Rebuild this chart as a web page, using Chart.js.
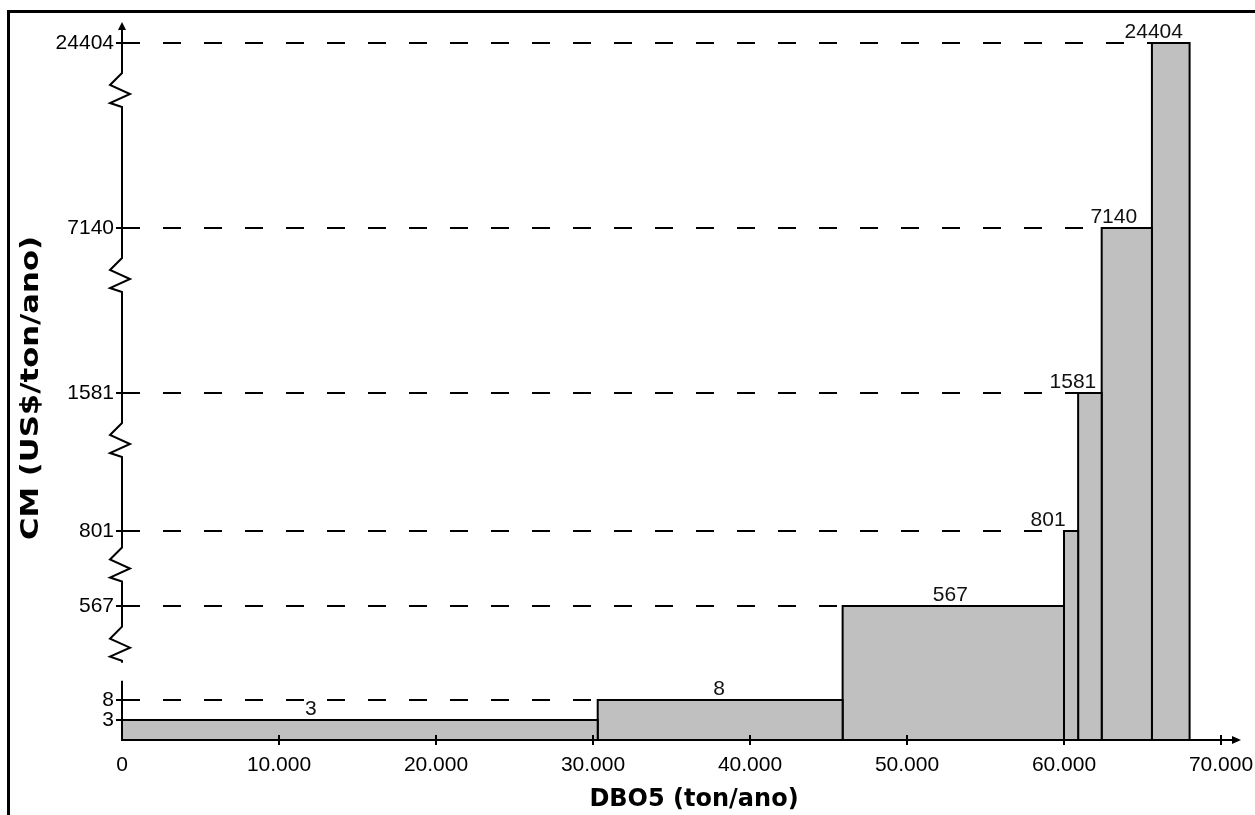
<!DOCTYPE html>
<html>
<head>
<meta charset="utf-8">
<script src="https://cdn.jsdelivr.net/npm/chart.js@4.4.1/dist/chart.umd.min.js"></script>
<style>
  html, body { margin: 0; padding: 0; background: #fff; }
  #wrap { width: 1255px; height: 815px; }
</style>
</head>
<body>
<div id="wrap"><canvas id="grafico" width="1255" height="815"></canvas></div>
<script>
// Dados (curva de custo marginal por faixa de DBO5)
const inicioFaixa = [0, 30300, 45900, 60000, 60900, 62400, 65600];
const fimFaixa = [30300, 45900, 60000, 60900, 62400, 65600, 68000];
const custoMarginal = [3, 8, 567, 801, 1581, 7140, 24404];
const ticksY = [3, 8, 567, 801, 1581, 7140, 24404];
const ticksX = [0, 10000, 20000, 30000, 40000, 50000, 60000, 70000];
const tituloX = 'DBO5 (ton/ano)';
const tituloY = 'CM (US$/ton/ano)';

// Eixo Y quebrado: altura (px acima do eixo X) de cada valor de ticksY
const posicaoQuebra = [20, 40, 134, 209, 347, 512, 697];
const alturaEixoY = 720;

const fonteTicks = { family: 'Liberation Sans, Arial, sans-serif', size: 21 };

// Escala linear com trechos (eixo quebrado)
class EixoQuebrado extends Chart.LinearScale {
    paraPosicao(v) {
        const vals = [0].concat(ticksY);
        const pos = [0].concat(posicaoQuebra);
        if (v <= 0) return 0;
        for (let i = 1; i < vals.length; i++) {
            if (v <= vals[i]) {
                return pos[i - 1] + (v - vals[i - 1]) / (vals[i] - vals[i - 1]) * (pos[i] - pos[i - 1]);
            }
        }
        return pos[pos.length - 1];
    }
    getPixelForValue(v) {
        if (v === null || v === undefined) return NaN;
        return super.getPixelForValue(this.paraPosicao(v));
    }
}
EixoQuebrado.id = 'quebrado';
EixoQuebrado.defaults = Chart.LinearScale.defaults;
Chart.register(EixoQuebrado);

function formatarMilhar(v) {
    return String(v).replace(/\B(?=(\d{3})+(?!\d))/g, '.');
}

const datasets = [];
// barras (faixas)
custoMarginal.forEach(function(v, i) {
    datasets.push({
        data: [
            { x: inicioFaixa[i], y: 0 },
            { x: inicioFaixa[i], y: v },
            { x: fimFaixa[i], y: v },
            { x: fimFaixa[i], y: 0 }
        ],
        fill: 'origin',
        backgroundColor: '#c0c0c0',
        borderColor: '#000',
        borderWidth: 2,
        pointRadius: 0,
        tension: 0,
        order: 1
    });
});
// linhas tracejadas de referência
custoMarginal.forEach(function(v, i) {
    datasets.push({
        data: [{ x: 0, y: v }, { x: inicioFaixa[i], y: v }],
        fill: false,
        borderColor: '#000',
        borderWidth: 2,
        borderDash: [18, 23],
        pointRadius: 0,
        order: 2
    });
});

// Eixos com quebras, setas, rótulos das barras e títulos
const deslocRotulo = [-49, -1, -3, -23, -17, -13, -17];
const decoracao = {
    id: 'decoracao',
    afterDraw(chart) {
        const ctx = chart.ctx;
        const xS = chart.scales.x, yS = chart.scales.y;
        const area = chart.chartArea;
        const x0 = xS.getPixelForValue(0);
        const y0 = yS.getPixelForValue(0);
        ctx.save();

        // moldura
        ctx.fillStyle = '#000';
        ctx.fillRect(7, 10, 3, 815);
        ctx.fillRect(7, 10, 1248, 3);

        ctx.strokeStyle = '#000';
        ctx.lineWidth = 2;
        ctx.lineCap = 'butt';

        // eixo Y com zigue-zagues
        const topo = area.top + 2;
        ctx.beginPath();
        ctx.moveTo(x0, topo + 6);
        for (let k = ticksY.length - 1; k >= 2; k--) {
            const sup = yS.getPixelForValue(ticksY[k]);
            const inf = yS.getPixelForValue(ticksY[k - 1]);
            const zt = sup + Math.min(30, (inf - sup) * 0.22);
            ctx.lineTo(x0, zt);
            ctx.lineTo(x0 - 12, zt + 12);
            ctx.lineTo(x0 + 8, zt + 21);
            ctx.lineTo(x0 - 12, zt + 30);
            ctx.lineTo(x0, zt + 34);
            if (k === 2) {
                ctx.lineTo(x0, zt + 36);
                ctx.moveTo(x0, zt + 54);
            }
        }
        ctx.lineTo(x0, y0);
        ctx.stroke();

        // seta Y
        ctx.beginPath();
        ctx.moveTo(x0, topo);
        ctx.lineTo(x0 - 4, topo + 8);
        ctx.lineTo(x0 + 4, topo + 8);
        ctx.closePath();
        ctx.fill();

        // eixo X e seta
        const xFim = area.right + 20;
        ctx.beginPath();
        ctx.moveTo(x0 - 1, y0);
        ctx.lineTo(xFim - 6, y0);
        ctx.stroke();
        ctx.beginPath();
        ctx.moveTo(xFim, y0);
        ctx.lineTo(xFim - 9, y0 - 4);
        ctx.lineTo(xFim - 9, y0 + 4);
        ctx.closePath();
        ctx.fill();

        // marcas dos ticks
        ctx.lineWidth = 2;
        ticksY.forEach(function(v) {
            const py = yS.getPixelForValue(v);
            ctx.beginPath();
            ctx.moveTo(x0 - 6, py);
            ctx.lineTo(x0 + 5, py);
            ctx.stroke();
        });
        ticksX.forEach(function(v) {
            if (v === 0) return;
            const px = xS.getPixelForValue(v);
            ctx.beginPath();
            ctx.moveTo(px, y0 - 5);
            ctx.lineTo(px, y0 + 5);
            ctx.stroke();
        });

        // rótulos das barras
        ctx.fillStyle = '#111';
        ctx.font = '21px "Liberation Sans", Arial, sans-serif';
        ctx.textAlign = 'center';
        ctx.textBaseline = 'alphabetic';
        custoMarginal.forEach(function(v, i) {
            const cx = (xS.getPixelForValue(inicioFaixa[i]) + xS.getPixelForValue(fimFaixa[i])) / 2 + deslocRotulo[i];
            ctx.fillText(String(v), cx, yS.getPixelForValue(v) - 5);
        });

        // títulos
        ctx.fillStyle = '#000';
        ctx.font = 'bold 24px "DejaVu Sans", sans-serif';
        ctx.textBaseline = 'middle';
        ctx.fillText(tituloX, 694, 800);
        ctx.save();
        ctx.translate(32, 388);
        ctx.rotate(-Math.PI / 2);
        ctx.scale(1.28, 1);
        ctx.fillText(tituloY, 0, 0);
        ctx.restore();

        ctx.restore();
    }
};

document.addEventListener('DOMContentLoaded', function() {
    const ctx = document.getElementById('grafico').getContext('2d');
    new Chart(ctx, {
        type: 'line',
        data: { datasets: datasets },
        options: {
            responsive: false,
            animation: false,
            layout: { padding: { left: 0, right: 34, top: 20, bottom: 0 } },
            plugins: {
                legend: { display: false },
                tooltip: { enabled: false }
            },
            scales: {
                x: {
                    type: 'linear',
                    min: 0,
                    max: 70000,
                    afterFit: function(s) { s.height = 75; s.paddingLeft = 0; s.paddingRight = 0; },
                    afterBuildTicks: function(s) { s.ticks = ticksX.map(function(v) { return { value: v }; }); },
                    grid: { display: false, drawTicks: false },
                    border: { display: false },
                    ticks: {
                        font: fonteTicks,
                        color: '#000',
                        padding: 13,
                        maxRotation: 0,
                        autoSkip: false,
                        callback: function(v) { return formatarMilhar(v); }
                    }
                },
                y: {
                    type: 'quebrado',
                    min: 0,
                    max: alturaEixoY,
                    afterFit: function(s) { s.width = 122; s.paddingTop = 0; s.paddingBottom = 0; },
                    afterBuildTicks: function(s) { s.ticks = ticksY.map(function(v) { return { value: v }; }); },
                    grid: { display: false, drawTicks: false },
                    border: { display: false },
                    ticks: {
                        font: fonteTicks,
                        color: '#000',
                        padding: 8,
                        autoSkip: false,
                        callback: function(v) { return String(v); }
                    }
                }
            }
        },
        plugins: [decoracao]
    });
});
</script>
</body>
</html>
